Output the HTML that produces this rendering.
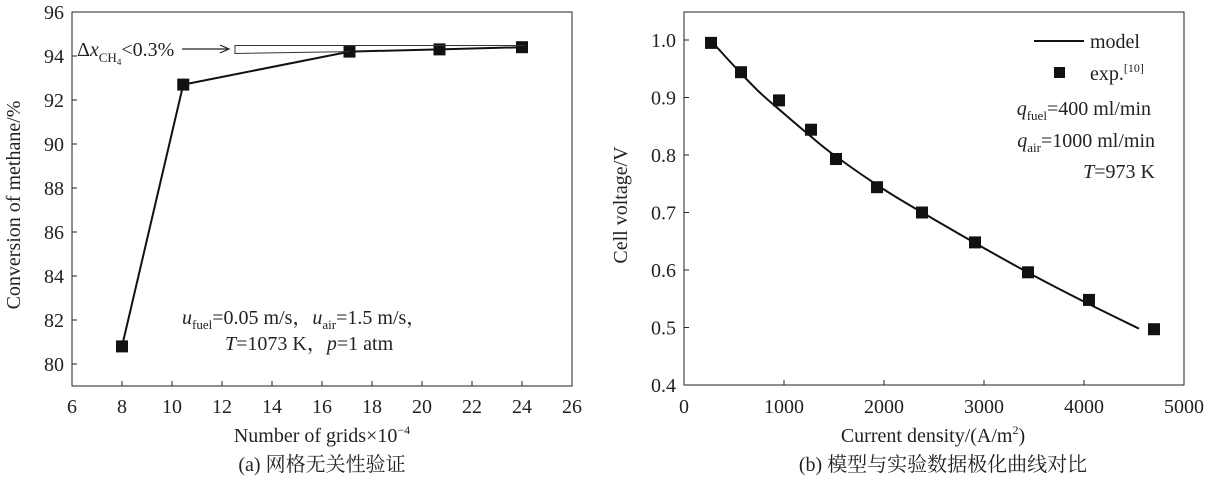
<!DOCTYPE html>
<html><head><meta charset="utf-8">
<style>
html,body{margin:0;padding:0;background:#fff;}
svg{display:block;font-family:"Liberation Serif","Noto Serif CJK SC",serif;}
text{fill:#222;}
</style></head>
<body>
<svg id="s" width="1208" height="480" viewBox="0 0 1208 480" xmlns="http://www.w3.org/2000/svg">
  <g id="left"></g>
  <g id="right"></g>
</svg>
<script>
// ---- Chart (a) data ----
const gridX = [8, 10.45, 17.1, 20.7, 24];
const conversion = [80.8, 92.7, 94.2, 94.3, 94.4];
const leftXTicks = [6, 8, 10, 12, 14, 16, 18, 20, 22, 24, 26];
const leftYTicks = [80, 82, 84, 86, 88, 90, 92, 94, 96];
// ---- Chart (b) data ----
const expCurrent = [270, 570, 950, 1270, 1520, 1930, 2380, 2910, 3440, 4050, 4700];
const expVoltage = [0.995, 0.944, 0.895, 0.844, 0.793, 0.744, 0.700, 0.648, 0.596, 0.548, 0.497];
const modelCurrent = [300, 500, 750, 1000, 1250, 1500, 2000, 2500, 3000, 3500, 4000, 4550];
const modelVoltage = [0.993, 0.955, 0.910, 0.872, 0.835, 0.800, 0.740, 0.688, 0.638, 0.590, 0.545, 0.498];
const rightXTicks = [0, 1000, 2000, 3000, 4000, 5000];
const rightYTicks = [0.4, 0.5, 0.6, 0.7, 0.8, 0.9, 1.0];

const NS = "http://www.w3.org/2000/svg";
const FS = 20;
function mk(parent, tag, attrs, txt){
  const e = document.createElementNS(NS, tag);
  for (const k in attrs) e.setAttribute(k, attrs[k]);
  if (txt !== undefined) e.textContent = txt;
  parent.appendChild(e); return e;
}

// ---------- Left chart ----------
const L = document.getElementById('left');
const lx = v => 72 + (v - 6) * 25;
const ly = v => 12 + (96 - v) * 22;
let fr = mk(L, 'rect', {x:72, y:12, width:500, height:374, fill:'none', stroke:'#222', 'stroke-width':1});


leftXTicks.forEach(t => {
  const x = lx(t);
  const tk = mk(L, 'line', {x1:x, x2:x, y1:386, y2:381, stroke:'#222'});
  
  
  const lb = mk(L, 'text', {x:x, y:413, 'font-size':FS, 'text-anchor':'middle'}, String(t));
  
  
});
leftYTicks.forEach(t => {
  const y = ly(t);
  const tk = mk(L, 'line', {x1:72, x2:77, y1:y, y2:y, stroke:'#222'});
  
  
  const lb = mk(L, 'text', {x:64, y:y + 7, 'font-size':FS, 'text-anchor':'end'}, String(t));
  
  
});
const lpts = gridX.map((g, i) => lx(g) + ',' + ly(conversion[i])).join(' ');
let ll = mk(L, 'polyline', {points:lpts, fill:'none', stroke:'#111', 'stroke-width':2});


gridX.forEach((g, i) => {
  const m = mk(L, 'rect', {x:lx(g) - 6, y:ly(conversion[i]) - 6, width:12, height:12, fill:'#111'});
  
  
});
let br = mk(L, 'path', {d:'M525,45.5 L235,45.5 L235,53.5 L'+lx(17.1)+','+ly(94.2), fill:'none', stroke:'#333', 'stroke-width':1});


let ar = mk(L, 'path', {d:'M182,49 L228,49 M220,45 L229,49 L220,53', fill:'none', stroke:'#222', 'stroke-width':1.2});


let dt = mk(L, 'text', {x:77, y:56, 'font-size':FS});


dt.innerHTML = 'Δ<tspan font-style="italic">x</tspan><tspan font-size="13" dy="6">CH</tspan><tspan font-size="9" dy="3">4</tspan><tspan dy="-9">&lt;0.3%</tspan>';
let c1 = mk(L, 'text', {x:182, y:324, 'font-size':FS});


c1.innerHTML = '<tspan font-style="italic">u</tspan><tspan font-size="13" dy="5">fuel</tspan><tspan dy="-5">=0.05 m/s，</tspan><tspan font-style="italic">u</tspan><tspan font-size="13" dy="5">air</tspan><tspan dy="-5">=1.5 m/s，</tspan>';
let c2 = mk(L, 'text', {x:225, y:350, 'font-size':FS});


c2.innerHTML = '<tspan font-style="italic">T</tspan>=1073 K，<tspan font-style="italic">p</tspan>=1 atm';
let yt = mk(L, 'text', {x:0, y:0, 'font-size':FS, 'text-anchor':'middle', transform:'translate(20,205) rotate(-90)'}, 'Conversion of methane/%');


let xt = mk(L, 'text', {x:322, y:442, 'font-size':FS, 'text-anchor':'middle'});


xt.innerHTML = 'Number of grids×10<tspan font-size="12" dy="-8">−4</tspan>';
let ca = mk(L, 'text', {x:322, y:471, 'font-size':FS, 'text-anchor':'middle'}, '(a) 网格无关性验证');



// ---------- Right chart ----------
const R = document.getElementById('right');
const rx = v => 684 + v * 0.1;
const ry = v => 40 + (1.0 - v) * 575;
let fr2 = mk(R, 'rect', {x:684, y:12, width:500, height:373, fill:'none', stroke:'#222', 'stroke-width':1});


rightXTicks.forEach(t => {
  const x = rx(t);
  const tk = mk(R, 'line', {x1:x, x2:x, y1:385, y2:380, stroke:'#222'});
  
  
  const lb = mk(R, 'text', {x:x, y:413, 'font-size':FS, 'text-anchor':'middle'}, String(t));
  
  
});
rightYTicks.forEach(t => {
  const y = ry(t);
  const tk = mk(R, 'line', {x1:684, x2:689, y1:y, y2:y, stroke:'#222'});
  
  
  const lb = mk(R, 'text', {x:676, y:y + 7, 'font-size':FS, 'text-anchor':'end'}, t.toFixed(1));
  
  
});
const mp = modelCurrent.map((c, i) => [rx(c), ry(modelVoltage[i])]);
let d = 'M' + mp[0][0] + ',' + mp[0][1];
for (let i = 0; i < mp.length - 1; i++) {
  const p0 = mp[Math.max(0, i - 1)], p1 = mp[i], p2 = mp[i + 1], p3 = mp[Math.min(mp.length - 1, i + 2)];
  const c1x = p1[0] + (p2[0] - p0[0]) / 6, c1y = p1[1] + (p2[1] - p0[1]) / 6;
  const c2x = p2[0] - (p3[0] - p1[0]) / 6, c2y = p2[1] - (p3[1] - p1[1]) / 6;
  d += ' C' + c1x + ',' + c1y + ' ' + c2x + ',' + c2y + ' ' + p2[0] + ',' + p2[1];
}
let ml = mk(R, 'path', {d:d, fill:'none', stroke:'#111', 'stroke-width':2});


expCurrent.forEach((c, i) => {
  const m = mk(R, 'rect', {x:rx(c) - 6, y:ry(expVoltage[i]) - 6, width:12, height:12, fill:'#111'});
  
  
});
let lg1 = mk(R, 'line', {x1:1034, x2:1084, y1:41, y2:41, stroke:'#111', 'stroke-width':2});


let lt1 = mk(R, 'text', {x:1090, y:48, 'font-size':FS}, 'model');


let lg2 = mk(R, 'rect', {x:1054, y:67, width:11, height:11, fill:'#111'});


let lt2 = mk(R, 'text', {x:1090, y:80, 'font-size':FS});


lt2.innerHTML = 'exp.<tspan font-size="12" dy="-8">[10]</tspan>';
let q1 = mk(R, 'text', {x:1151, y:115, 'font-size':FS, 'text-anchor':'end'});


q1.innerHTML = '<tspan font-style="italic">q</tspan><tspan font-size="13" dy="5">fuel</tspan><tspan dy="-5">=400 ml/min</tspan>';
let q2 = mk(R, 'text', {x:1155, y:147, 'font-size':FS, 'text-anchor':'end'});


q2.innerHTML = '<tspan font-style="italic">q</tspan><tspan font-size="13" dy="5">air</tspan><tspan dy="-5">=1000 ml/min</tspan>';
let q3 = mk(R, 'text', {x:1155, y:178, 'font-size':FS, 'text-anchor':'end'});


q3.innerHTML = '<tspan font-style="italic">T</tspan>=973 K';
let yt2 = mk(R, 'text', {x:0, y:0, 'font-size':FS, 'text-anchor':'middle', transform:'translate(627,205) rotate(-90)'}, 'Cell voltage/V');


let xt2 = mk(R, 'text', {x:933, y:442, 'font-size':FS, 'text-anchor':'middle'});


xt2.innerHTML = 'Current density/(A/m<tspan font-size="12" dy="-8">2</tspan><tspan dy="8">)</tspan>';
let cb = mk(R, 'text', {x:943, y:471, 'font-size':FS, 'text-anchor':'middle'}, '(b) 模型与实验数据极化曲线对比');


</script>
</body></html>
